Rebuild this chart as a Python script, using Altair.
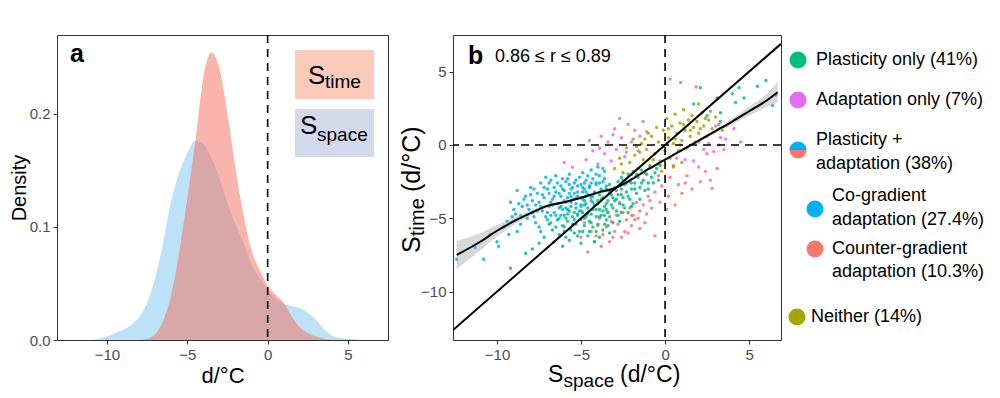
import altair as alt
import pandas as pd

FONT = "Liberation Sans"

# ---------------- Panel a: density curves ----------------
dens_x = [-11, -10.5, -10, -9.5, -9, -8.5, -8, -7.5, -7, -6.5, -6, -5.5, -5, -4.5, -4, -3.5,
          -3, -2.5, -2, -1.5, -1, -0.5, 0, 0.5, 1, 1.5, 2, 2.5, 3, 3.5, 4, 4.5, 5, 5.5, 6, 6.5, 7]
dens_space = [0.0, 0.001, 0.003, 0.006, 0.009, 0.013, 0.020, 0.033, 0.055, 0.086, 0.123, 0.148,
              0.165, 0.176, 0.173, 0.161, 0.143, 0.121, 0.102, 0.086, 0.067, 0.055, 0.045, 0.037,
              0.032, 0.030, 0.028, 0.024, 0.018, 0.010, 0.004, 0.002, 0.001, 0.0005, 0.0, 0.0, 0.0]
dens_time = [0, 0, 0, 0, 0, 0, 0, 0.001, 0.005, 0.017, 0.040, 0.078, 0.125, 0.176, 0.232, 0.254,
             0.240, 0.200, 0.152, 0.110, 0.079, 0.062, 0.048, 0.040, 0.033, 0.021, 0.011, 0.006,
             0.003, 0.001, 0, 0, 0, 0, 0, 0, 0]

# ---------------- Panel b: scatter ----------------
pts_counter = [(-5.0, -6.3), (-4.6, -7.3), (-4.4, -5.9), (-4.2, -6.6), (-4.0, -5.5), (-3.8, -6.9),
               (-3.7, -6.1), (-3.5, -5.6), (-3.3, -6.6), (-3.2, -5.2), (-3.0, -5.9), (-2.9, -4.8),
               (-2.8, -5.4), (-2.6, -6.3), (-2.5, -4.6), (-2.4, -5.9), (-2.3, -5.1), (-2.1, -4.3),
               (-2.0, -5.5), (-1.9, -4.8), (-1.8, -5.1), (-1.7, -3.9), (-1.5, -5.7), (-1.5, -4.5),
               (-1.3, -4.1), (-1.1, -4.7), (-1.0, -3.5), (-0.8, -4.3), (-0.6, -6.2), (-0.6, -3.2),
               (-0.3, -3.9), (-0.2, -2.8), (0.2, -3.5), (0.3, -2.2), (0.6, -4.1), (0.8, -2.7),
               (1.0, -3.3), (1.3, -2.1), (1.6, -3.0), (2.1, -2.5), (2.4, -1.8), (2.8, -2.95),
               (3.1, -1.6), (0.3, 4.5), (0.93, 4.26), (1.85, 3.97), (-3.4, -4.6), (-2.7, -3.9),
               (-0.4, -2.1), (0.5, -1.4), (-4.8, -5.3), (-3.9, -5.0), (-2.2, -6.0), (-1.2, -5.3),
               (-4.1, -6.2), (-3.1, -6.3), (-2.0, -4.8), (-1.6, -5.0), (-0.9, -3.8), (0.1, -4.4),
               (1.2, -2.6)]
pts_neither = [(-3.0, -1.6), (-2.7, -0.9), (-2.5, -1.9), (-2.3, -0.2), (-2.1, -1.2), (-1.9, 0.4),
               (-1.8, -0.7), (-1.6, -1.6), (-1.4, 0.1), (-1.3, -1.0), (-1.1, -0.3), (-0.9, -1.4),
               (-0.8, 0.6), (-0.6, -0.6), (-0.4, 0.2), (-0.3, -1.1), (-0.1, 1.0), (0.0, -0.4),
               (0.1, 1.8), (0.2, 0.5), (0.3, -0.9), (0.4, 1.3), (0.5, 0.1), (0.6, 2.1), (0.7, 0.8),
               (0.8, -0.4), (0.9, 1.5), (1.0, 0.3), (1.1, 2.4), (1.2, 1.0), (1.3, -0.2), (1.4, 1.7),
               (1.5, 0.6), (1.6, 2.0), (1.7, 1.2), (1.8, 0.2), (1.9, 1.6), (2.0, 0.8), (2.2, 2.2),
               (2.3, 1.3), (2.5, 0.6), (2.6, 1.7), (2.8, 1.1), (3.0, 1.9), (3.2, 1.4), (3.4, 1.0),
               (-0.5, 1.2), (-1.0, 0.8), (0.5, -1.5), (-2.0, -2.0), (1.0, -1.2), (2.0, 2.8),
               (-0.2, -1.8), (0.9, 0.0), (2.7, 2.3), (-1.5, -0.5), (-2.6, -1.3), (-1.7, -0.1),
               (-1.2, 0.4), (-0.7, -1.0), (0.2, 1.1), (0.6, 0.4), (1.1, 1.4), (1.5, 1.0),
               (2.1, 1.1), (2.4, 1.8)]
pts_adapt = [(-4.7, -1.0), (-4.5, 0.3), (-4.3, -0.4), (-4.0, -1.3), (-3.8, 0.6), (-3.6, -0.6),
             (-3.4, 0.2), (-3.2, -1.1), (-3.0, 1.1), (-2.9, -0.3), (-2.7, 1.8), (-2.6, 0.5),
             (-2.4, -0.8), (-2.2, 1.4), (-2.0, 0.2), (-1.8, 1.0), (-1.6, -0.4), (-1.3, 1.6),
             (-1.1, 0.9), (0.7, -0.9), (1.2, -1.0), (1.7, -1.1), (2.0, 0.2), (2.3, -0.3),
             (2.6, 0.1), (2.9, -0.45), (3.2, 0.0), (3.5, -0.3), (3.6, 0.4), (4.1, 1.1),
             (4.5, 0.2), (2.0, -1.5), (2.7, -2.4), (3.0, 1.3), (-5.5, -1.5), (-6.0, -1.2),
             (-3.9, -0.2), (-3.1, 0.7), (-2.3, -0.5), (-1.5, 0.6), (2.5, -0.6), (3.3, 0.5)]
pts_plastic = [(-9.2, -8.4), (-7.9, -7.1), (-7.5, -6.7), (-7.4, -5.9), (-7.2, -6.3), (-6.9, -5.4),
               (-6.7, -5.8), (-6.6, -6.6), (-6.4, -5.1), (-6.3, -6.1), (-6.1, -5.5), (-6.0, -4.8),
               (-5.9, -6.3), (-5.8, -5.2), (-5.7, -4.5), (-5.6, -5.8), (-5.5, -4.9), (-5.4, -6.0),
               (-5.3, -4.3), (-5.3, -5.4), (-5.2, -4.8), (-5.1, -5.9), (-5.0, -4.1), (-5.0, -5.1),
               (-4.9, -4.6), (-4.8, -5.5), (-4.8, -3.8), (-4.7, -4.9), (-4.6, -4.3), (-4.6, -6.2),
               (-4.5, -5.2), (-4.4, -3.6), (-4.4, -4.7), (-4.3, -5.6), (-4.2, -4.1), (-4.2, -3.3),
               (-4.1, -4.9), (-4.0, -3.8), (-4.0, -5.4), (-3.9, -4.4), (-3.8, -3.1), (-3.8, -4.8),
               (-3.7, -3.6), (-3.7, -5.8), (-3.6, -4.2), (-3.5, -3.0), (-3.5, -5.1), (-3.4, -3.8),
               (-3.4, -4.6), (-3.3, -2.7), (-3.2, -4.1), (-3.2, -3.4), (-3.1, -5.3), (-3.0, -2.9),
               (-3.0, -3.8), (-2.9, -4.5), (-2.8, -2.5), (-2.8, -3.4), (-2.7, -4.0), (-2.6, -3.0),
               (-2.6, -2.2), (-2.5, -3.6), (-2.4, -4.3), (-2.4, -2.7), (-2.3, -3.2), (-2.2, -2.0),
               (-2.1, -3.7), (-2.1, -2.5), (-2.0, -3.0), (-1.9, -1.8), (-1.8, -2.6), (-1.7, -3.3),
               (-1.6, -2.2), (-1.5, -2.9), (-1.4, -1.7), (-1.3, -2.4), (-1.2, -3.1), (-1.1, -2.0),
               (-1.0, -2.6), (-0.9, -1.5), (-0.8, -2.2), (-0.6, -1.9), (-0.4, -2.4), (-0.3, -1.4),
               (-5.6, -3.9), (-5.2, -3.5), (-4.9, -3.2), (-4.5, -2.8), (-4.1, -2.6), (-3.6, -2.3),
               (-6.2, -4.2), (-6.8, -4.8), (-7.0, -5.1), (-3.9, -6.3), (-3.3, -6.0), (-4.2, -6.6),
               (-2.7, -5.2), (-2.2, -4.6), (-1.9, -4.0), (-1.5, -3.7), (1.7, 2.8), (2.1, 3.9),
               (3.1, 3.2), (3.3, 2.2), (4.0, 3.5), (4.2, 2.9), (4.4, 3.9), (4.7, 3.2), (5.5, 4.0),
               (6.0, 4.4), (2.5, 2.0), (-8.3, -7.4), (-6.1, -6.9), (-5.0, -6.7), (-4.7, -3.5),
               (-4.3, -4.4), (-3.9, -3.4), (-3.5, -4.0), (-3.1, -3.6), (-2.9, -3.1), (-5.8, -4.4),
               (-5.4, -4.6), (-4.5, -5.9), (-3.6, -4.8), (-2.5, -2.4), (-2.0, -2.6),
               (-5.9, -5.0), (-5.5, -5.4), (-5.2, -6.2), (-5.0, -4.5), (-4.8, -5.0), (-4.6, -4.7),
               (-4.4, -5.3), (-4.3, -3.9), (-4.1, -4.4), (-3.9, -4.9), (-3.8, -3.7), (-3.6, -5.4),
               (-3.5, -4.4), (-3.3, -4.9), (-3.3, -3.2), (-3.1, -4.3), (-2.9, -3.7), (-2.8, -4.8),
               (-2.6, -3.4), (-2.5, -4.1), (-2.3, -2.6), (-2.2, -3.5), (-2.0, -4.2), (-1.8, -3.0),
               (-1.7, -2.0), (-1.4, -2.6), (-1.2, -1.9), (-1.0, -3.0), (-0.7, -2.6), (-0.5, -1.6),
               (-6.5, -5.6), (-6.0, -5.9), (-5.7, -6.5), (-4.9, -5.9), (-4.1, -5.9), (-3.4, -5.5),
               (-2.6, -4.6), (-4.7, -4.0), (-4.0, -4.0), (-3.7, -4.5)]
pts_cograd = [(-12.4, -7.8), (-10.8, -7.8), (-10.0, -6.6), (-9.9, -6.9), (-9.4, -5.2), (-9.3, -6.1),
              (-9.2, -3.9), (-8.9, -4.7), (-8.8, -3.1), (-8.8, -5.9), (-8.6, -5.4), (-8.5, -4.2),
              (-8.3, -3.5), (-8.2, -5.0), (-8.1, -4.4), (-8.0, -2.9), (-7.9, -3.8), (-7.8, -4.9),
              (-7.7, -4.1), (-7.6, -3.3), (-7.5, -5.6), (-7.4, -2.6), (-7.3, -4.5), (-7.2, -3.6),
              (-7.1, -4.9), (-7.0, -3.0), (-6.9, -4.2), (-6.8, -2.4), (-6.8, -5.3), (-6.7, -3.7),
              (-6.6, -4.6), (-6.5, -3.2), (-6.5, -2.1), (-6.4, -4.0), (-6.3, -5.0), (-6.2, -2.8),
              (-6.2, -3.5), (-6.1, -4.4), (-6.0, -3.1), (-6.0, -5.6), (-5.9, -2.5), (-5.9, -3.9),
              (-5.8, -4.7), (-5.7, -3.3), (-5.7, -2.0), (-5.6, -4.2), (-5.5, -2.9), (-5.5, -3.7),
              (-5.4, -5.1), (-5.3, -2.4), (-5.3, -4.0), (-5.2, -3.2), (-5.1, -4.5), (-5.0, -2.7),
              (-5.0, -3.6), (-4.9, -1.9), (-4.8, -3.0), (-4.8, -4.1), (-4.7, -2.4), (-4.6, -3.4),
              (-4.5, -2.9), (-4.4, -1.7), (-4.4, -3.8), (-4.3, -2.3), (-4.2, -3.2), (-4.1, -2.7),
              (-4.0, -1.5), (-3.9, -2.1), (-3.8, -3.0), (-3.7, -2.5), (-3.6, -1.8), (-3.5, -2.8),
              (-6.9, -3.3), (-7.5, -3.9), (-6.3, -4.3), (-5.8, -3.6), (-5.2, -4.7), (-6.6, -2.9),
              (-7.9, -4.6), (-8.4, -3.7), (-7.1, -2.2), (-6.1, -2.3), (-5.4, -3.3), (-4.9, -3.7),
              (6.6, 3.4), (6.4, 2.7), (3.3, 1.6), (-9.6, -5.6), (-10.4, -6.1), (-11.3, -7.0),
              (-6.7, -4.1), (-6.0, -3.8), (-5.6, -3.0), (-7.3, -3.4), (-8.6, -4.8), (-9.0, -4.4),
              (-8.7, -4.0), (-8.0, -3.4), (-7.6, -4.5), (-7.2, -2.9), (-7.0, -4.6), (-6.8, -3.9),
              (-6.5, -4.8), (-6.4, -2.6), (-6.3, -3.3), (-6.1, -3.0), (-5.9, -4.3), (-5.7, -2.7),
              (-5.6, -3.5), (-5.4, -2.6), (-5.3, -3.6), (-5.1, -2.2), (-5.0, -4.2), (-4.9, -2.9),
              (-4.7, -3.2), (-4.6, -2.1), (-4.4, -2.6), (-4.3, -3.5), (-4.1, -2.0), (-3.9, -2.6),
              (-3.7, -1.6), (-7.8, -3.0), (-7.4, -4.2), (-6.9, -2.6), (-6.6, -3.5), (-6.2, -4.8),
              (-5.8, -2.3), (-5.2, -2.8), (-4.8, -2.6), (-8.2, -4.1), (-9.1, -4.9), (-7.7, -5.3)]

cat_names = ["Counter-gradient adaptation", "Adaptation only", "Neither",
             "Plasticity only", "Co-gradient adaptation"]
cat_colors = ["#F8766D", "#E76BF3", "#A3A500", "#00BF7D", "#00B0F6"]
cat_points = [pts_counter, pts_adapt, pts_neither, pts_plastic, pts_cograd]

# LOESS fit and its confidence band
loess_x = [-12.4, -11, -10, -9, -8, -7, -6, -5, -4, -3, -2, -1, 0, 1, 2, 3, 4, 5, 6, 6.7]
loess_y = [-7.5, -6.6, -5.85, -5.2, -4.65, -4.15, -3.9, -3.6, -3.25, -2.95, -2.35, -1.65,
           -1.0, -0.35, 0.3, 0.95, 1.6, 2.3, 3.0, 3.6]
loess_half = [0.95, 0.6, 0.4, 0.25, 0.17, 0.13, 0.1, 0.1, 0.09, 0.09, 0.09, 0.09, 0.1,
              0.1, 0.11, 0.13, 0.2, 0.3, 0.45, 0.7]
ident_x = [-12.62, 6.9]

legend_labels = ["Plasticity only (41%)", "Adaptation only (7%)", "Plasticity +",
                 "adaptation (38%)", "Co-gradient", "adaptation (27.4%)",
                 "Counter-gradient", "adaptation (10.3%)", "Neither (14%)"]

# ---------------- build tables ----------------
dens_df = pd.DataFrame({"x": dens_x, "space": dens_space, "time": dens_time})
rows = []
for name, pts in zip(cat_names, cat_points):
    for (px, py) in pts:
        rows.append({"cat": name, "x": px, "y": py})
pts_df = pd.DataFrame(rows)
loess_df = pd.DataFrame({"x": loess_x, "y": loess_y,
                         "lo": [a - b for a, b in zip(loess_y, loess_half)],
                         "hi": [a + b for a, b in zip(loess_y, loess_half)]})
ident_df = pd.DataFrame({"x": ident_x})
one = pd.DataFrame({"k": [0]})

XA = [-13.11, 7.49]
YA = [0, 0.2695]
XB = [-12.62, 6.9]
YB = [-13.3, 7.5]


def txt(s, x, y, size, angle=0, bold=False, align="left", baseline="alphabetic", color="black"):
    kw = dict(text=s, align=align, baseline=baseline, fontSize=size, font=FONT, color=color)
    if angle:
        kw["angle"] = angle
    if bold:
        kw["fontWeight"] = "bold"
    return alt.Chart(one).mark_text(**kw).encode(x=alt.value(x), y=alt.value(y))


def dot(x, y, color, shape="circle", size=289):
    return alt.Chart(one).mark_point(filled=True, opacity=1, size=size, shape=shape,
                                     color=color, strokeWidth=0).encode(
        x=alt.value(x), y=alt.value(y))


def rect(x, x2, y, y2, color):
    return alt.Chart(one).mark_rect(color=color).encode(
        x=alt.value(x), x2=alt.value(x2), y=alt.value(y), y2=alt.value(y2))


# ---------------- Panel a ----------------
xa = alt.X("x:Q", scale=alt.Scale(domain=XA, nice=False, zero=False),
           axis=alt.Axis(values=[-10, -5, 0, 5], format="d", title="d/°C",
                         titleFontSize=22, titlePadding=3))
area_space = alt.Chart(dens_df).mark_area(color="#7CC3EE", opacity=0.5,
                                          interpolate="monotone").encode(
    x=xa,
    y=alt.Y("space:Q", scale=alt.Scale(domain=YA, nice=False, zero=False),
            axis=alt.Axis(values=[0, 0.1, 0.2], format=".1f", title="Density",
                          titleFontSize=20, titlePadding=0)))
area_time = alt.Chart(dens_df).mark_area(color="#F4725E", opacity=0.52,
                                         interpolate="monotone").encode(
    x="x:Q", y="time:Q")
vline_a = alt.Chart(one).mark_rule(color="black", strokeDash=[8, 6], strokeWidth=1.6).encode(
    x=alt.datum(0))

panel_a = alt.layer(
    area_space, area_time, vline_a,
    rect(238, 317, 15, 64, "#FBCAB8"),
    rect(238, 317, 74, 122, "#D3D8EA"),
    txt("S", 251, 49, 26), txt("time", 268, 53, 19),
    txt("S", 243, 99, 26), txt("space", 260, 106, 19),
    txt("a", 13, 27, 25, bold=True),
).properties(width=331, height=305)

# ---------------- Panel b ----------------
xb = alt.X("x:Q", scale=alt.Scale(domain=XB, nice=False, zero=False),
           axis=alt.Axis(values=[-10, -5, 0, 5], format="d", title=None))
yb = alt.Y("y:Q", scale=alt.Scale(domain=YB, nice=False, zero=False),
           axis=alt.Axis(values=[-10, -5, 0, 5], format="d", title=None))

scatter = alt.Chart(pts_df).mark_circle(size=12, opacity=0.85).encode(
    x=xb, y=yb,
    color=alt.Color("cat:N", scale=alt.Scale(domain=cat_names, range=cat_colors), legend=None))
ribbon = alt.Chart(loess_df).mark_area(color="#A8A8A8", opacity=0.45,
                                       interpolate="monotone", clip=True).encode(
    x="x:Q", y="lo:Q", y2="hi:Q")
loess_line = alt.Chart(loess_df).mark_line(color="black", strokeWidth=2,
                                           interpolate="monotone", clip=True).encode(
    x="x:Q", y="y:Q")
ident_line = alt.Chart(ident_df).mark_line(color="black", strokeWidth=2, clip=True).encode(
    x="x:Q", y="x:Q")
vline_b = alt.Chart(one).mark_rule(color="black", strokeDash=[8, 6], strokeWidth=1.6).encode(
    x=alt.datum(0))
hline_b = alt.Chart(one).mark_rule(color="black", strokeDash=[8, 6], strokeWidth=1.6).encode(
    y=alt.datum(0))

half_top = "M -1 0 A 1 1 0 0 1 1 0 Z"
half_bot = "M -1 0 A 1 1 0 0 0 1 0 Z"

panel_b = alt.layer(
    scatter, ribbon, loess_line, ident_line, vline_b, hline_b,
    txt("b", 15, 29, 25, bold=True),
    txt("0.86 ≤ r ≤ 0.89", 42, 27, 18),
    # x title
    txt("S", 95, 347, 23), txt("space", 110.5, 352, 19), txt("(d/°C)", 167, 347, 23),
    # y title (rotated)
    txt("S", -33, 218, 25, angle=270), txt("time", -29, 201, 20, angle=270),
    txt("(d/°C)", -33, 157, 25, angle=270),
    # legend
    dot(345, 25, "#00BF7D"), txt(legend_labels[0], 363, 25, 18, baseline="middle"),
    dot(345, 65, "#E76BF3"), txt(legend_labels[1], 363, 65, 18, baseline="middle"),
    dot(345, 115, "#00B0F6", shape=half_top), dot(345, 115, "#F8766D", shape=half_bot),
    txt(legend_labels[2], 363, 105, 18, baseline="middle"),
    txt(legend_labels[3], 363, 129, 18, baseline="middle"),
    dot(362, 174, "#00B0F6"), txt(legend_labels[4], 379, 161, 18, baseline="middle"),
    txt(legend_labels[5], 379, 185, 18, baseline="middle"),
    dot(362, 214, "#F8766D"), txt(legend_labels[6], 379, 214, 18, baseline="middle"),
    txt(legend_labels[7], 379, 237, 18, baseline="middle"),
    dot(344, 282, "#A3A500"), txt(legend_labels[8], 358, 282, 18, baseline="middle"),
).properties(width=328, height=305)

chart = alt.hconcat(panel_a, panel_b, spacing=10).properties(
    padding={"left": 0, "top": 25, "right": 0, "bottom": 0}
).configure_view(stroke="#333333", strokeWidth=1).configure_axis(
    grid=False, domain=False, tickColor="#333333", tickSize=4, labelPadding=3,
    labelColor="#4D4D4D", labelFontSize=15, labelFont=FONT, titleFont=FONT,
    titleColor="black", titleFontWeight="normal")

chart.save("out.html", embed_options={"renderer": "svg", "actions": False})
